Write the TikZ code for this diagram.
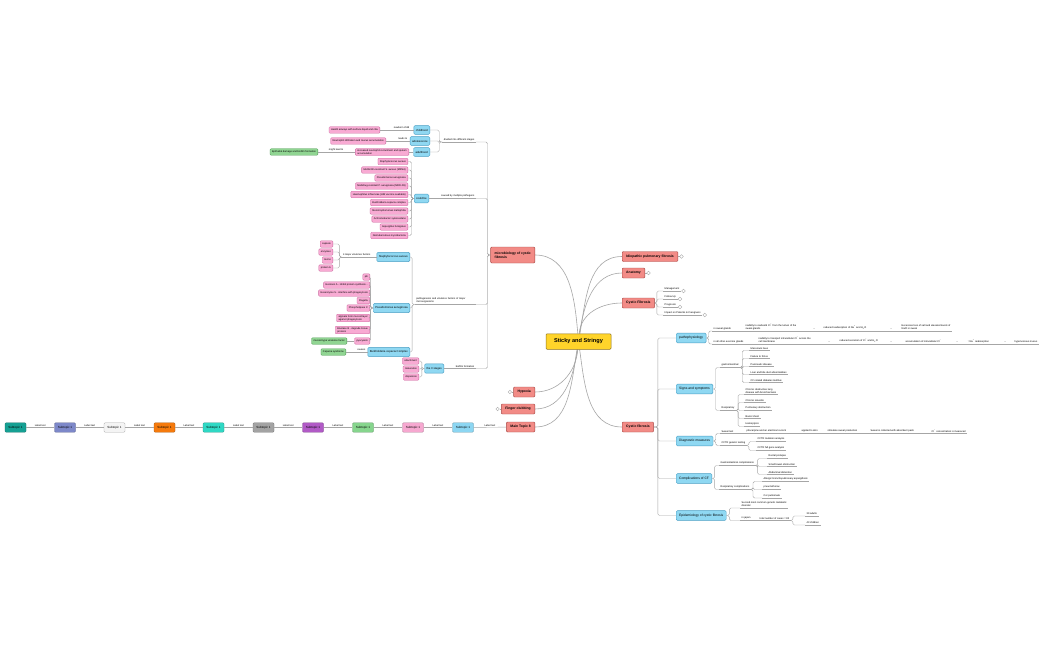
\documentclass[tikz,border=0pt]{standalone}
\usepackage{fontspec}
\setmainfont{Liberation Sans}
\usetikzlibrary{positioning, calc, backgrounds}
\definecolor{rootfill}{HTML}{FFD42A}
\definecolor{rootline}{HTML}{8E7420}
\definecolor{topicfill}{HTML}{F28B86}
\definecolor{topicline}{HTML}{A94C48}
\definecolor{subfill}{HTML}{8FD8F2}
\definecolor{subline}{HTML}{4B9FC4}
\definecolor{pinkfill}{HTML}{F8AAD3}
\definecolor{pinkline}{HTML}{CC6BA0}
\definecolor{greenfill}{HTML}{90D592}
\definecolor{greenline}{HTML}{4F9C55}
\definecolor{linkline}{HTML}{A6A6A6}
\definecolor{chainA}{HTML}{15A093}
\definecolor{chainB}{HTML}{7D88C9}
\definecolor{chainC}{HTML}{F4F4F4}
\definecolor{chainD}{HTML}{F57A0C}
\definecolor{chainE}{HTML}{2FD8C4}
\definecolor{chainF}{HTML}{A3A3A3}
\definecolor{chainG}{HTML}{B15AC6}
\definecolor{chainH}{HTML}{86D58D}
\definecolor{chainI}{HTML}{F6A8D0}
\definecolor{chainJ}{HTML}{8CD6F2}
\newcommand\mmroot{\fontsize{5.6}{6.6}\selectfont\bfseries}
\newcommand\mmtopic{\fontsize{3.4}{4.3}\selectfont\bfseries}
\newcommand\mmsub{\fontsize{3.3}{4.1}\selectfont}
\newcommand\mmsmall{\fontsize{2.8}{3.4}\selectfont}
\newcommand\mmleaf{\fontsize{2.5}{3.2}\selectfont}
\newcommand\sups[1]{\textsuperscript{#1}}
\newcommand\subs[1]{\textsubscript{#1}}
\tikzset{
  rootbox/.style  = {font=\mmroot, draw=rootline, fill=rootfill, line width=0.5pt,
                     rounded corners=1pt, minimum width=65, minimum height=15.5},
  topicbox/.style = {font=\mmtopic, align=left, draw=topicline, fill=topicfill,
                     line width=0.45pt, rounded corners=1pt, minimum height=10, inner xsep=4},
  subbox/.style   = {font=\mmsub, draw=subline, fill=subfill, line width=0.4pt,
                     rounded corners=1.2pt, minimum height=9, inner xsep=3},
  subsmall/.style = {subbox, font=\mmsmall, minimum height=7, inner xsep=2},
  pinkbox/.style  = {font=\mmleaf, align=left, draw=pinkline, fill=pinkfill, line width=0.35pt,
                     rounded corners=1pt, minimum height=6.5, inner xsep=2, inner ysep=1},
  greenbox/.style = {pinkbox, draw=greenline, fill=greenfill},
  chainbox/.style = {font=\fontsize{3}{3.6}\selectfont, draw=#1!70!black, fill=#1, line width=0.35pt,
                     rounded corners=1pt, minimum width=21, minimum height=8, inner xsep=1.5},
  leaf/.style     = {font=\mmleaf, align=left, inner xsep=1.5, inner ysep=0.9,
                     append after command={\pgfextra{\let\leafnode\tikzlastnode}
                       (\leafnode.south west) edge[branch] (\leafnode.south east)}},
  lbl/.style      = {font=\mmleaf, inner sep=0.6, above},
  fold/.style     = {circle, draw=linkline, fill=white, line width=0.35pt, inner sep=0, minimum size=3.6},
  branch/.style   = {draw=linkline, line width=0.4pt, rounded corners=1.5},
  trunk/.style    = {draw=linkline, line width=0.6pt},
}

\begin{document}
\begin{tikzpicture}[x=1pt, y=-1pt]
  \useasboundingbox (0,0) rectangle (1050,650);

  \node[rootbox] (root) at (578.5,341.5) {Sticky and Stringy};

  \node[topicbox, anchor=west] (ipf)  at (622,256.5) {Idiopathic pulmonary fibrosis};
  \node[topicbox, anchor=west] (anat) at (622,273) {Anatomy};
  \node[topicbox, anchor=west] (cfa)  at (622,303) {Cystic Fibrosis};
  \node[topicbox, anchor=west] (cfb)  at (622,427) {Cystic fibrosis};
  \node[topicbox, anchor=east, minimum height=16] (micro) at (535,255) {microbiology of cystic\\fibrosis};
  \node[topicbox, anchor=east] (hyp)  at (535,392) {Hypoxia};
  \node[topicbox, anchor=east] (club) at (535,409) {Finger clubbing};
  \node[topicbox, anchor=east] (mt8)  at (535,427) {Main Topic 8};

  \node[fold, right=1.5pt of ipf]  (ipff)  {};
  \node[fold, right=1.5pt of anat] (anatf) {};
  \node[fold, left=1.5pt of hyp]   (hypf)  {};
  \node[fold, left=1.5pt of club]  (clubf) {};
  \draw[branch] (ipf) -- (ipff);
  \draw[branch] (anat) -- (anatf);
  \draw[branch] (hyp) -- (hypf);
  \draw[branch] (club) -- (clubf);

  \begin{scope}[on background layer]
    \fill[white] (0,0) rectangle (1050,650);
    \draw[trunk] (root) to[out=95, in=0]    (micro.east);
    \draw[trunk] (root) to[out=-95, in=0]   (hyp.east);
    \draw[trunk] (root) to[out=-98, in=0]   (club.east);
    \draw[trunk] (root) to[out=-100, in=0]  (mt8.east);
    \draw[trunk] (root) to[out=80, in=180]  (ipf.west);
    \draw[trunk] (root) to[out=82, in=180]  (anat.west);
    \draw[trunk] (root) to[out=85, in=180]  (cfa.west);
    \draw[trunk] (root) to[out=-82, in=180] (cfb.west);
  \end{scope}

  % Cystic Fibrosis
  \node[leaf, anchor=south west] (mgmt) at (663,291) {Management};
  \node[leaf, anchor=south west] (foll) at (663,299) {Follow Up};
  \node[leaf, anchor=south west] (prog) at (663,307) {Prognosis};
  \node[leaf, anchor=south west] (impa) at (663,315) {Impact on Patients \& Caregivers};
  \node[fold, right=0.5pt of mgmt.south east] (mgmtf) {};
  \node[fold, right=0.5pt of foll.south east] (follf) {};
  \node[fold, right=0.5pt of prog.south east] (progf) {};
  \node[fold, right=0.5pt of impa.south east] (impaf) {};
  \draw[branch] (cfa.east) -- ++(2,0) |- (mgmt.south west);
  \draw[branch] (cfa.east) -- ++(2,0) |- (foll.south west);
  \draw[branch] (cfa.east) -- ++(2,0) |- (prog.south west);
  \draw[branch] (cfa.east) -- ++(2,0) |- (impa.south west);

  % Cystic fibrosis
  \node[subbox, anchor=west] (patho) at (676,338) {pathophysiology};
  \node[subbox, anchor=west] (signs) at (676,389) {Signs and symptoms};
  \node[subbox, anchor=west] (diag)  at (676,441) {Diagnostic measures};
  \node[subbox, anchor=west] (compl) at (676,478.5) {Complications of CF};
  \node[subbox, anchor=west] (epid)  at (676,515.5) {Epidemiology of cystic fibrosis};
  \draw[branch] (cfb.east) -- ++(4,0) |- (patho.west);
  \draw[branch] (cfb.east) -- ++(4,0) |- (signs.west);
  \draw[branch] (cfb.east) -- ++(4,0) |- (diag.west);
  \draw[branch] (cfb.east) -- ++(4,0) |- (compl.west);
  \draw[branch] (cfb.east) -- ++(4,0) |- (epid.west);

  \node[leaf, anchor=south west] (swg)  at (712,331) {in sweat glands};
  \node[leaf, anchor=south west] (swg1) at (744,331) {inability to reabsorb Cl\sups{−} from the lumen of the\\sweat glands};
  \node[leaf, anchor=south west] (swa1) at (811,331) {→};
  \node[leaf, anchor=south west] (swg2) at (822,331) {reduced reabsorption of Na\sups{+} and H\subs{2}O};
  \node[leaf, anchor=south west] (swa2) at (888,331) {→};
  \node[leaf, anchor=south west] (swg3) at (900,331) {Excessive loss of salt and elevated levels of\\NaCl in sweat};
  \node[leaf, anchor=south west] (exo)  at (712,344) {in all other exocrine glands};
  \node[leaf, anchor=south west] (exo1) at (757,344) {inability to transport intracellular Cl\sups{−} across the\\cell membrane};
  \node[leaf, anchor=south west] (exa1) at (826,344) {→};
  \node[leaf, anchor=south west] (exo2) at (838,344) {reduced secretion of Cl\sups{−} and H\subs{2}O};
  \node[leaf, anchor=south west] (exa2) at (888,344) {→};
  \node[leaf, anchor=south west] (exo3) at (904,344) {accumulation of intracellular Cl\sups{−}};
  \node[leaf, anchor=south west] (exa3) at (954,344) {→};
  \node[leaf, anchor=south west] (exo4) at (966,344) {↑ Na\sups{+} reabsorption};
  \node[leaf, anchor=south west] (exa4) at (1002,344) {→};
  \node[leaf, anchor=south west] (exo5) at (1013,344) {hyperviscous mucus};
  \draw[branch] (patho.east) -- ++(2.5,0) |- (swg.south west);
  \draw[branch] (patho.east) -- ++(2.5,0) |- (exo.south west);
  \draw[branch] (swg.south east) -- (swg1.south west);
  \draw[branch] (swg1.south east) -- (swa1.south west);
  \draw[branch] (swa1.south east) -- (swg2.south west);
  \draw[branch] (swg2.south east) -- (swa2.south west);
  \draw[branch] (swa2.south east) -- (swg3.south west);
  \draw[branch] (exo.south east) -- (exo1.south west);
  \draw[branch] (exo1.south east) -- (exa1.south west);
  \draw[branch] (exa1.south east) -- (exo2.south west);
  \draw[branch] (exo2.south east) -- (exa2.south west);
  \draw[branch] (exa2.south east) -- (exo3.south west);
  \draw[branch] (exo3.south east) -- (exa3.south west);
  \draw[branch] (exa3.south east) -- (exo4.south west);
  \draw[branch] (exo4.south east) -- (exa4.south west);
  \draw[branch] (exa4.south east) -- (exo5.south west);

  \node[leaf, anchor=south west] (gastro) at (720,367.5) {gastrointestinal};
  \node[leaf, anchor=south west] (gi1) at (749,350.5) {Meconium ileus};
  \node[leaf, anchor=south west] (gi2) at (749,358.5) {Failure to thrive};
  \node[leaf, anchor=south west] (gi3) at (749,366.5) {Pancreatic disease};
  \node[leaf, anchor=south west] (gi4) at (749,374.5) {Liver and bile duct abnormalities};
  \node[leaf, anchor=south west] (gi5) at (749,382.5) {CF related diabetes mellitus};
  \node[leaf, anchor=south west] (resp) at (720,410.5) {Respiratory};
  \node[leaf, anchor=south west] (re1) at (744,394.5) {Chronic obstructive lung\\disease with bronchiectasis};
  \node[leaf, anchor=south west] (re2) at (744,402.5) {Chronic sinusitis};
  \node[leaf, anchor=south west] (re3) at (744,410.5) {Pulmonary obstruction};
  \node[leaf, anchor=south west] (re4) at (744,418.5) {Barrel chest};
  \node[leaf, anchor=south west] (re5) at (744,426.5) {Hemoptysis};
  \draw[branch] (signs.east) -- ++(2.5,0) |- (gastro.south west);
  \draw[branch] (signs.east) -- ++(2.5,0) |- (resp.south west);
  \foreach \g in {gi1,gi2,gi3,gi4,gi5}
    \draw[branch] (gastro.south east) -- ++(2,0) |- (\g.south west);
  \foreach \r in {re1,re2,re3,re4,re5}
    \draw[branch] (resp.south east) -- ++(2,0) |- (\r.south west);

  \node[leaf, anchor=south west] (sweat) at (720,433.5) {Sweat test};
  \node[leaf, anchor=south west] (sw1) at (745,433.5) {pilocarpine and an electrical current};
  \node[leaf, anchor=south west] (sw2) at (800,433.5) {applied to skin};
  \node[leaf, anchor=south west] (sw3) at (826,433.5) {stimulate sweat production};
  \node[leaf, anchor=south west] (sw4) at (869,433.5) {Sweat is collected with absorbent pads};
  \node[leaf, anchor=south west] (sw5) at (930,433.5) {Cl\sups{−} concentration is measured};
  \node[leaf, anchor=south west] (cftr) at (720,445.5) {CFTR genetic testing};
  \node[leaf, anchor=south west] (cf1) at (756,441.5) {CFTR mutation analysis};
  \node[leaf, anchor=south west] (cf2) at (756,450.5) {CFTR full gene analysis};
  \draw[branch] (diag.east) -- ++(2.5,0) |- (sweat.south west);
  \draw[branch] (diag.east) -- ++(2.5,0) |- (cftr.south west);
  \draw[branch] (sweat.south east) -- (sw1.south west);
  \draw[branch] (sw1.south east) -- (sw2.south west);
  \draw[branch] (sw2.south east) -- (sw3.south west);
  \draw[branch] (sw3.south east) -- (sw4.south west);
  \draw[branch] (sw4.south east) -- (sw5.south west);
  \draw[branch] (cftr.south east) -- ++(2,0) |- (cf1.south west);
  \draw[branch] (cftr.south east) -- ++(2,0) |- (cf2.south west);

  \node[leaf, anchor=south west] (gicomp) at (719,465.5) {Gastrointestinal complications};
  \node[leaf, anchor=south west] (gc1) at (767,458.5) {Rectal prolapse};
  \node[leaf, anchor=south west] (gc2) at (767,466.5) {Small bowel obstruction};
  \node[leaf, anchor=south west] (gc3) at (767,474.5) {Abdominal distention};
  \node[leaf, anchor=south west] (recomp) at (719,489.5) {Respiratory complications};
  \node[leaf, anchor=south west] (rc1) at (762,481.5) {Allergic bronchopulmonary aspergillosis};
  \node[leaf, anchor=south west] (rc2) at (762,489.5) {pneumothorax};
  \node[leaf, anchor=south west] (rc3) at (762,498) {Cor pulmonale};
  \draw[branch] (compl.east) -- ++(2.5,0) |- (gicomp.south west);
  \draw[branch] (compl.east) -- ++(2.5,0) |- (recomp.south west);
  \foreach \c in {gc1,gc2,gc3}
    \draw[branch] (gicomp.south east) -- ++(2,0) |- (\c.south west);
  \foreach \c in {rc1,rc2,rc3}
    \draw[branch] (recomp.south east) -- ++(2,0) |- (\c.south west);

  \node[leaf, anchor=south west] (ep1) at (740,508) {Second most common genetic metabolic\\disorder};
  \node[leaf, anchor=south west] (japan) at (740,520.5) {in japan};
  \node[leaf, anchor=south west] (total) at (758,520.5) {total number of cases = 82};
  \node[leaf, anchor=south west] (adults) at (805,516) {39 adults};
  \node[leaf, anchor=south west] (kids) at (805,525) {43 children};
  \draw[branch] (epid.east) -- ++(3,0) |- (ep1.south west);
  \draw[branch] (epid.east) -- ++(3,0) |- (japan.south west);
  \draw[branch] (japan.south east) -- (total.south west);
  \draw[branch] (total.south east) -- ++(2,0) |- (adults.south west);
  \draw[branch] (total.south east) -- ++(2,0) |- (kids.south west);

  % microbiology
  \node[leaf, anchor=south east] (stages) at (476,142) {divided into different stages};
  \node[subsmall, anchor=east] (childh) at (430,130) {childhood};
  \node[subsmall, anchor=east] (adol)   at (430,141) {adolescence};
  \node[subsmall, anchor=east] (adult)  at (430,152) {adulthood};
  \node[leaf, anchor=south east] (newb) at (411,130) {newborn child};
  \node[pinkbox, anchor=east] (healthy) at (380,130) {Health airways with surface liquid and cilia};
  \node[leaf, anchor=south east] (leads) at (409,141) {leads to};
  \node[pinkbox, anchor=east] (infil) at (386,141) {Neutrophil infiltration and mucus accumulation};
  \node[pinkbox, anchor=east] (recruit) at (409,152) {increased neutrophil recruitment and sputum\\accumulation};
  \node[leaf, anchor=south east] (might) at (345,152) {might lead to};
  \node[greenbox, anchor=east] (damage) at (318,152) {Epithelial damage and biofilm formation};
  \draw[branch] (micro.west) -- ++(-3,0) |- (stages.south east);
  \draw[branch] (stages.south west) -- ++(-3,0) |- (childh.east);
  \draw[branch] (stages.south west) -- ++(-3,0) |- (adol.east);
  \draw[branch] (stages.south west) -- ++(-3,0) |- (adult.east);
  \draw[branch] (childh.west) -- (newb.south east);
  \draw[branch] (newb.south west) -- (healthy.east);
  \draw[branch] (adol.west) -- (leads.south east);
  \draw[branch] (leads.south west) -- (infil.east);
  \draw[branch] (adult.west) -- (recruit.east);
  \draw[branch] (recruit.west) -- (might.south east);
  \draw[branch] (might.south west) -- (damage.east);

  \node[leaf, anchor=south east] (caused) at (476,198.5) {caused by multiple pathogens};
  \node[subsmall, anchor=east] (could) at (429,198.5) {could be};
  \node[pinkbox, anchor=east] (pg1)  at (408,161.5) {Staphylococcus aureus};
  \node[pinkbox, anchor=east] (pg2)  at (408,170) {Methicillin-resistant S. aureus (MRSA)};
  \node[pinkbox, anchor=east] (pg3)  at (408,178) {Pseudomonas aeruginosa};
  \node[pinkbox, anchor=east] (pg4)  at (408,186) {Multidrug-resistant P. aeruginosa (MDR-PA)};
  \node[pinkbox, anchor=east] (pg5)  at (408,194.5) {Haemophilus influenzae (HIB vaccine available)};
  \node[pinkbox, anchor=east] (pg6)  at (408,202.5) {Burkholderia cepacia complex};
  \node[pinkbox, anchor=east] (pg7)  at (408,211) {Stenotrophomonas maltophilia};
  \node[pinkbox, anchor=east] (pg8)  at (408,219) {Achromobacter xylosoxidans};
  \node[pinkbox, anchor=east] (pg9)  at (408,227) {Aspergillus fumigatus};
  \node[pinkbox, anchor=east] (pg10) at (408,235.5) {Nontuberculous mycobacteria};
  \draw[branch] (micro.west) -- ++(-3,0) |- (caused.south east);
  \draw[branch] (caused.south west) -- (could.east);
  \foreach \p in {pg1,pg2,pg3,pg4,pg5,pg6,pg7,pg8,pg9,pg10}
    \draw[branch] (could.west) -- ++(-2.5,0) |- (\p.east);

  \node[leaf, anchor=south east, text width=58] (virul) at (476,304.5) {pathogenesis and virulence factors of major\\microorganisms};
  \node[subsmall, anchor=east] (saur) at (410,257) {Staphylococcus aureus};
  \node[subsmall, anchor=east] (paer) at (410,308) {Pseudomonas aeruginosa};
  \node[subsmall, anchor=east] (bcep) at (410,352) {Burkholderia cepacia Complex};
  \draw[branch] (micro.west) -- ++(-3,0) |- (virul.south east);
  \draw[branch] (virul.south west) -- ++(-2.5,0) |- (saur.east);
  \draw[branch] (virul.south west) -- ++(-2.5,0) |- (paer.east);
  \draw[branch] (virul.south west) -- ++(-2.5,0) |- (bcep.east);

  \node[leaf, anchor=south east] (four) at (372,257) {4 major virulence factors};
  \node[pinkbox, anchor=east] (capsule) at (333,244) {capsule};
  \node[pinkbox, anchor=east] (enzym)   at (333,252) {enzymes};
  \node[pinkbox, anchor=east] (toxin)   at (333,260) {toxins};
  \node[pinkbox, anchor=east] (protA)   at (333,268) {protein A};
  \draw[branch] (saur.west) -- (four.south east);
  \foreach \v in {capsule,enzym,toxin,protA}
    \draw[branch] (four.south west) -- ++(-2,0) |- (\v.east);

  \node[pinkbox, anchor=east] (pili)   at (370,277) {pili};
  \node[pinkbox, anchor=east] (exoA)   at (370,285) {Exotoxin A - inhibit protein synthesis...};
  \node[pinkbox, anchor=east] (exoS)   at (370,293) {Exoenzyme S - interfere with phagocytosis};
  \node[pinkbox, anchor=east] (flag)   at (370,300.5) {Flagella};
  \node[pinkbox, anchor=east] (phos)   at (370,308) {Phospholipase C};
  \node[pinkbox, anchor=east] (algin)  at (370,318) {alginate form mucoid layer\\against phagocytosis};
  \node[pinkbox, anchor=east] (elast)  at (370,330) {Elastase B - degrade tissue\\proteins};
  \node[pinkbox, anchor=east] (pyo)    at (370,341) {pyocyanin};
  \node[greenbox, anchor=east] (mucoid) at (347,341) {mucoid-type virulence factor};
  \foreach \v in {pili,exoA,exoS,flag,phos,algin,elast,pyo}
    \draw[branch] (paer.west) -- ++(-2.5,0) |- (\v.east);
  \draw[branch] (pyo.west) -- (mucoid.east);

  \node[leaf, anchor=south east] (causes) at (367,352) {causes};
  \node[greenbox, anchor=east] (cepsyn) at (346,352) {Cepacia syndrome};
  \draw[branch] (bcep.west) -- (causes.south east);
  \draw[branch] (causes.south west) -- (cepsyn.east);

  \node[leaf, anchor=south east] (biof) at (476,368.5) {biofilm formation};
  \node[subsmall, anchor=east] (three) at (444,368.5) {the 3 stages};
  \node[pinkbox, anchor=east] (attach) at (419,361) {attachment};
  \node[pinkbox, anchor=east] (matur)  at (419,369) {maturation};
  \node[pinkbox, anchor=east] (disp)   at (419,377) {dispersion};
  \draw[branch] (micro.west) -- ++(-3,0) |- (biof.south east);
  \draw[branch] (biof.south west) -- (three.east);
  \foreach \v in {attach,matur,disp}
    \draw[branch] (three.west) -- ++(-2.5,0) |- (\v.east);

  % subtopic chain
  \node[chainbox=chainA] (s1)  at (15.5,427.5)  {Subtopic 1};
  \node[chainbox=chainB] (s2)  at (65,427.5)    {Subtopic 1};
  \node[chainbox=chainC] (s3)  at (114.5,427.5) {Subtopic 1};
  \node[chainbox=chainD] (s4)  at (164.5,427.5) {Subtopic 1};
  \node[chainbox=chainE] (s5)  at (213.5,427.5) {Subtopic 1};
  \node[chainbox=chainF] (s6)  at (263.5,427.5) {Subtopic 1};
  \node[chainbox=chainG] (s7)  at (313,427.5)   {Subtopic 1};
  \node[chainbox=chainH] (s8)  at (363,427.5)   {Subtopic 1};
  \node[chainbox=chainI] (s9)  at (413,427.5)   {Subtopic 1};
  \node[chainbox=chainJ] (s10) at (463,427.5)   {Subtopic 1};
  \draw[branch] (mt8) -- node[lbl] {Label text} (s10);
  \draw[branch] (s10) -- node[lbl] {Label text} (s9);
  \draw[branch] (s9)  -- node[lbl] {Label text} (s8);
  \draw[branch] (s8)  -- node[lbl] {Label text} (s7);
  \draw[branch] (s7)  -- node[lbl] {Label text} (s6);
  \draw[branch] (s6)  -- node[lbl] {Label text} (s5);
  \draw[branch] (s5)  -- node[lbl] {Label text} (s4);
  \draw[branch] (s4)  -- node[lbl] {Label text} (s3);
  \draw[branch] (s3)  -- node[lbl] {Label text} (s2);
  \draw[branch] (s2)  -- node[lbl] {Label text} (s1);
\end{tikzpicture}
\end{document}
